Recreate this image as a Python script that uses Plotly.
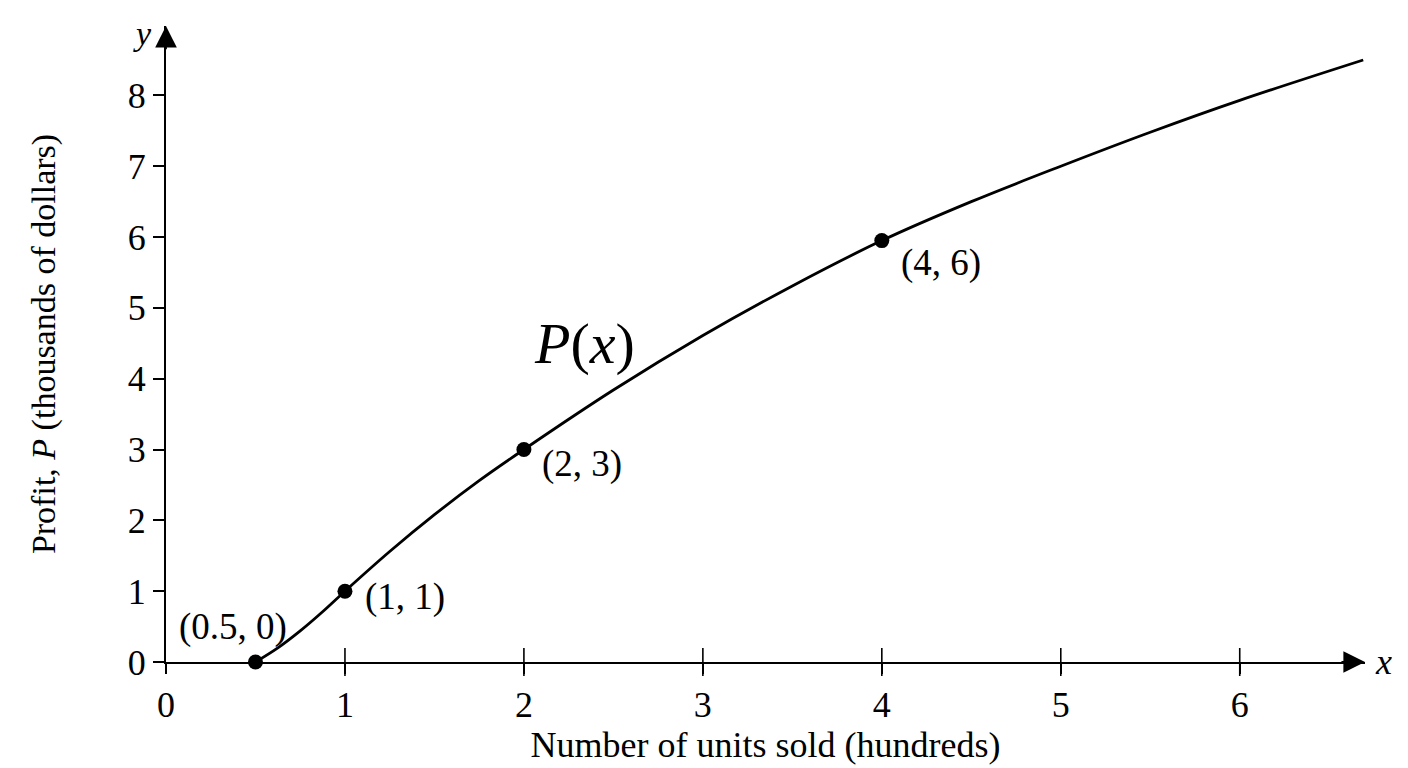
"""
Profit curve P(x) with labelled points
"""

import plotly.graph_objects as go

# Curve (x in hundreds of units, P in thousands of dollars)
curve_x = [0.5, 0.625, 0.75, 0.875, 1.0, 1.25, 1.5, 1.75, 2.0, 2.5, 3.0, 3.5, 4.0, 4.5, 5.0, 5.5, 6.0, 6.69]
curve_y = [0.0, 0.2, 0.44, 0.71, 1.0, 1.56, 2.08, 2.56, 3.0, 3.84, 4.61, 5.31, 5.95, 6.5, 7.0, 7.48, 7.93, 8.5]

# Marked points and their labels
point_x = [0.5, 1, 2, 4]
point_y = [0, 1, 3, 5.95]
point_labels = ["(0.5, 0)", "(1, 1)", "(2, 3)", "(4, 6)"]

x_ticks = [0, 1, 2, 3, 4, 5, 6]
y_ticks = [0, 1, 2, 3, 4, 5, 6, 7, 8]

X_MAX = 6.7
Y_MAX = 8.98
FONT = "Liberation Serif"

fig = go.Figure()

# Profit curve
fig.add_trace(
    go.Scatter(
        x=curve_x,
        y=curve_y,
        mode="lines",
        line=dict(color="black", width=2.8, shape="spline"),
        cliponaxis=False,
        hoverinfo="skip",
    )
)

# Tick marks crossing the x axis
fig.add_trace(
    go.Scatter(
        x=x_ticks[1:],
        y=[0] * (len(x_ticks) - 1),
        mode="markers",
        marker=dict(symbol="line-ns", size=20, line=dict(color="black", width=1.6)),
        cliponaxis=False,
        hoverinfo="skip",
    )
)

# Labelled points
fig.add_trace(
    go.Scatter(
        x=point_x,
        y=point_y,
        mode="markers",
        marker=dict(color="black", size=15),
        cliponaxis=False,
        hoverinfo="skip",
    )
)

# offsets (px) of each label relative to its point
label_offsets = [(-22, 35, "center"), (18, -6, "left"), (16, -14, "left"), (17, -22, "left")]
for px, py, txt, (dx, dy, anchor) in zip(point_x, point_y, point_labels, label_offsets):
    fig.add_annotation(
        x=px, y=py, text=txt, showarrow=False,
        xanchor=anchor, yanchor="middle", xshift=dx, yshift=dy,
        font=dict(family=FONT, size=37, color="black"),
    )

# Curve name
fig.add_annotation(
    x=2.34, y=4.5, text="<i>P</i>(<i>x</i>)", showarrow=False,
    xanchor="center", yanchor="middle",
    font=dict(family=FONT, size=58, color="black"),
)

# Axis arrows (short shafts so only the heads show past the axis lines)
fig.add_annotation(
    x=X_MAX, y=0, ax=X_MAX - 0.14, ay=0, xref="x", yref="y", axref="x", ayref="y",
    text="", showarrow=True, arrowhead=2, arrowsize=2.4, arrowwidth=1.8, arrowcolor="black",
)
fig.add_annotation(
    x=0, y=Y_MAX, ax=0, ay=Y_MAX - 0.35, xref="x", yref="y", axref="x", ayref="y",
    text="", showarrow=True, arrowhead=2, arrowsize=2.4, arrowwidth=1.8, arrowcolor="black",
)

# Axis letters
fig.add_annotation(
    x=X_MAX, y=0, text="<i>x</i>", showarrow=False, xanchor="left", yanchor="middle",
    xshift=8, font=dict(family=FONT, size=36, color="black"),
)
fig.add_annotation(
    x=0, y=1, xref="x", yref="paper", yanchor="bottom", text="<i>y</i>", showarrow=False,
    xanchor="right", xshift=-12, yshift=-28, font=dict(family=FONT, size=34, color="black"),
)

# page body adds an 8px margin, so the figure is 8px smaller than the window
fig.update_layout(
    width=1400,
    height=760,
    showlegend=False,
    plot_bgcolor="white",
    paper_bgcolor="white",
    margin=dict(l=158, r=43, t=18, b=101),
    font=dict(family=FONT, size=36, color="black"),
)

fig.update_xaxes(
    range=[0, X_MAX],
    tickvals=x_ticks,
    ticktext=[str(v) for v in x_ticks],
    ticks="outside",
    ticklen=10,
    tickwidth=1.6,
    tickcolor="black",
    showline=True,
    linecolor="black",
    linewidth=2,
    showgrid=False,
    zeroline=False,
    title=dict(text="Number of units sold (hundreds)", standoff=6,
               font=dict(family=FONT, size=36)),
)

fig.update_yaxes(
    range=[0, Y_MAX],
    tickvals=y_ticks,
    ticktext=[str(v) for v in y_ticks],
    ticks="outside",
    ticklen=11,
    tickwidth=1.6,
    tickcolor="black",
    showline=True,
    linecolor="black",
    linewidth=2,
    showgrid=False,
    zeroline=False,
    title=dict(text="Profit, <i>P</i> (thousands of dollars)", standoff=62,
               font=dict(family=FONT, size=34)),
)

fig.write_html("out.html")
